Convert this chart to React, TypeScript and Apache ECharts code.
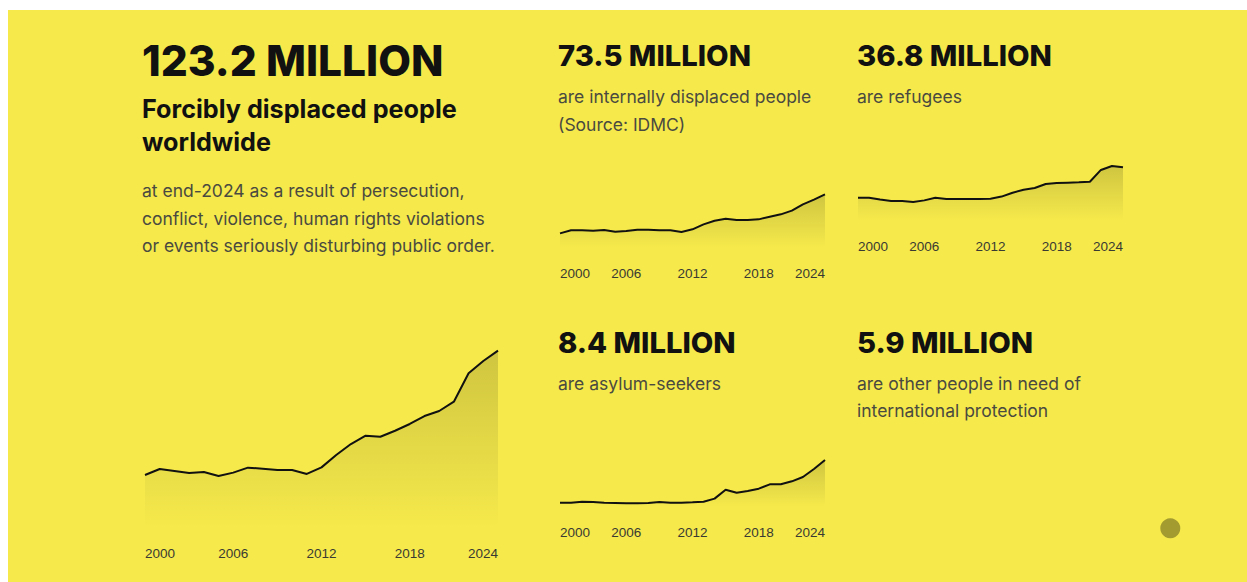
import React, { useEffect, useRef } from "react";
import * as echarts from "echarts";

const years = [
  "2000", "2001", "2002", "2003", "2004", "2005", "2006", "2007", "2008", "2009",
  "2010", "2011", "2012", "2013", "2014", "2015", "2016", "2017", "2018", "2019",
  "2020", "2021", "2022", "2023", "2024",
];
const tickLabels = ["2000", "2006", "2012", "2018", "2024"];

// millions
const forciblyDisplaced = [
  40.1, 44.1, 42.8, 41.4, 42.1, 39.4, 41.7, 45.0, 44.3, 43.4,
  43.4, 40.8, 45.2, 53.5, 60.8, 66.4, 65.7, 69.7, 74.2, 79.5,
  82.9, 89.1, 108.1, 116.3, 123.2,
];
const internallyDisplaced = [
  23.8, 27.7, 27.7, 27.2, 28.1, 26.0, 26.8, 28.5, 28.5, 27.7,
  27.7, 25.5, 29.0, 35.3, 40.0, 42.6, 40.9, 40.9, 41.7, 45.1,
  48.1, 52.8, 60.9, 66.8, 73.5,
];
const refugees = [
  17.4, 17.4, 16.2, 15.3, 15.3, 14.7, 15.7, 17.4, 16.6, 16.6,
  16.6, 16.6, 16.8, 18.1, 20.6, 22.5, 23.6, 26.1, 26.8, 27.0,
  27.2, 27.6, 35.1, 37.6, 36.8,
];
const asylumSeekers = [
  1.02, 1.02, 1.2, 1.14, 1.02, 0.97, 0.91, 0.91, 0.97, 1.14,
  1.02, 1.02, 1.08, 1.2, 1.72, 3.27, 2.75, 3.04, 3.44, 4.19,
  4.19, 4.71, 5.46, 6.84, 8.4,
];

const FONT = "Inter";
const HEAD = "#111111";
const BODY = "#4a4a40";

export default function App() {
  const ref = useRef<HTMLDivElement>(null);

  useEffect(() => {
    if (!ref.current) return;
    const chart = echarts.init(ref.current, undefined, { renderer: "svg" });

    const grids = [
      { left: 145, top: 348, width: 353, height: 179.5 },
      { left: 560, top: 192.5, width: 265, height: 54.8 },
      { left: 858, top: 164.6, width: 265, height: 55.7 },
      { left: 560, top: 457.6, width: 265, height: 48.7 },
    ];
    const ranges = [
      [5, 125],
      [6, 76],
      [3, 38.5],
      [0.4, 8.8],
    ];
    const data = [forciblyDisplaced, internallyDisplaced, refugees, asylumSeekers];

    const xAxis = grids.map((_, i) => ({
      type: "category",
      gridIndex: i,
      data: years,
      boundaryGap: false,
      axisLine: { show: false },
      axisTick: { show: false },
      splitLine: { show: false },
      axisLabel: {
        interval: (_idx: number, val: string) => tickLabels.includes(val),
        margin: 19,
        fontSize: 13.5,
        color: "#3a3a32",
        fontFamily: "Liberation Sans",
        alignMinLabel: "left",
        alignMaxLabel: "right",
      },
    }));
    const yAxis = grids.map((_, i) => ({
      type: "value",
      gridIndex: i,
      min: ranges[i][0],
      max: ranges[i][1],
      show: false,
      splitLine: { show: false },
    }));
    const series = data.map((d, i) => ({
      type: "line",
      xAxisIndex: i,
      yAxisIndex: i,
      data: d,
      showSymbol: false,
      symbol: "none",
      lineStyle: { color: "#111111", width: 2 },
      areaStyle: {
        color: new echarts.graphic.LinearGradient(0, 0, 0, 1, [
          { offset: 0, color: "rgba(0,0,0,0.22)" },
          { offset: 1, color: "rgba(0,0,0,0)" },
        ]),
      },
    }));

    const txt = (x: number, y: number, text: string, size: number, weight: any, fill: string) => ({
      type: "text",
      x,
      y,
      style: {
        text,
        fontFamily: FONT,
        fontSize: size,
        fontWeight: weight,
        fill,
        align: "left",
        verticalAlign: "middle",
      },
    });

    const graphic = [
      txt(142, 60, "123.2 MILLION", 42.4, 800, HEAD),
      txt(142, 108.6, "Forcibly displaced people", 25.2, 700, HEAD),
      txt(142, 142, "worldwide", 25.2, 700, HEAD),
      txt(142, 190.3, "at end-2024 as a result of persecution,", 17.5, 400, BODY),
      txt(142, 218, "conflict, violence, human rights violations", 17.5, 400, BODY),
      txt(142, 245.7, "or events seriously disturbing public order.", 17.5, 400, BODY),

      txt(558, 55, "73.5 MILLION", 29.2, 800, HEAD),
      txt(558, 96.5, "are internally displaced people", 17.5, 400, BODY),
      txt(558, 124, "(Source: IDMC)", 17.5, 400, BODY),

      txt(857, 55, "36.8 MILLION", 29.2, 800, HEAD),
      txt(857, 96.5, "are refugees", 17.5, 400, BODY),

      txt(558, 342.5, "8.4 MILLION", 29.2, 800, HEAD),
      txt(558, 383, "are asylum-seekers", 17.5, 400, BODY),

      txt(857, 342.5, "5.9 MILLION", 29.2, 800, HEAD),
      txt(857, 383, "are other people in need of", 17.5, 400, BODY),
      txt(857, 410.7, "international protection", 17.5, 400, BODY),

      {
        type: "circle",
        shape: { cx: 1170.3, cy: 528.3, r: 10 },
        style: { fill: "#a39a30" },
      },
    ];

    chart.setOption({
      animation: false,
      grid: grids.map((g) => ({ ...g, containLabel: false })),
      xAxis,
      yAxis,
      series,
      graphic,
    } as any);

    return () => chart.dispose();
  }, []);

  return (
    <div style={{ position: "fixed", left: 0, top: 0, width: 1247, height: 582, background: "#ffffff" }}>
      <div style={{ position: "absolute", left: 8, top: 10, width: 1239, height: 572, background: "#f5e94b" }} />
      <div ref={ref} style={{ position: "absolute", left: 0, top: 0, width: 1247, height: 582 }} />
    </div>
  );
}
